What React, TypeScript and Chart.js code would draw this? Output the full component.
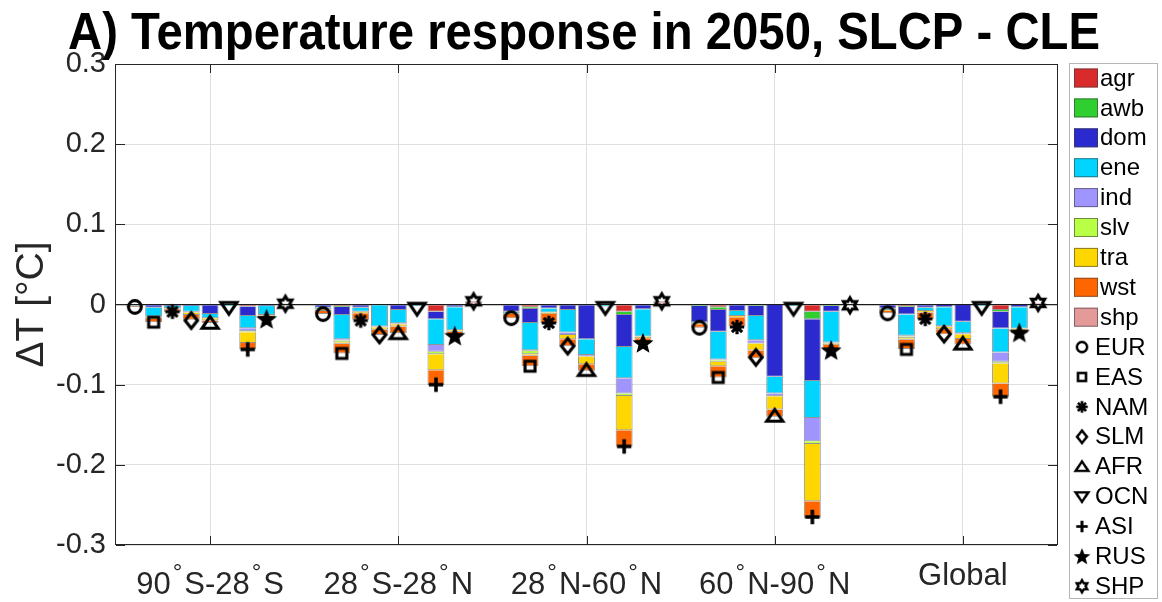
import React, { useEffect, useRef } from 'react';
import { Chart, registerables } from 'chart.js';
Chart.register(...registerables);

const TITLE = 'A) Temperature response in 2050, SLCP - CLE';
const Y_LABEL = 'ΔT [°C]';
const BANDS = ['90°S-28°S', '28°S-28°N', '28°N-60°N', '60°N-90°N', 'Global'];
const REGIONS = ['EUR', 'EAS', 'NAM', 'SLM', 'AFR', 'OCN', 'ASI', 'RUS', 'SHP'];
const SECTORS = ['agr', 'awb', 'dom', 'ene', 'ind', 'slv', 'tra', 'wst', 'shp'];
const Y_MIN = -0.3;
const Y_MAX = 0.3;
const Y_STEP = 0.1;

// rows = latitude bands, columns = source regions (EUR..SHP)
const agr = [
  [0, -0.001, 0, 0, -0.001, 0, -0.002, 0, 0],
  [-0.001, -0.002, -0.001, 0, -0.001, 0, -0.009, -0.001, 0],
  [-0.001, -0.0035, -0.001, -0.001, -0.001, 0, -0.009, -0.001, 0],
  [-0.001, -0.0035, -0.001, 0, -0.0005, 0, -0.009, 0, 0],
  [-0.001, -0.002, -0.001, -0.0005, -0.0005, 0, -0.007, -0.0005, 0],
];
const awb = [
  [0, 0, 0, 0, 0, 0, -0.0005, 0, 0],
  [0, -0.001, 0, 0, 0, 0, -0.0005, 0, 0],
  [0, -0.002, 0, 0, 0, 0, -0.004, 0, 0],
  [-0.001, -0.0035, 0, -0.002, 0, 0, -0.0095, -0.002, 0],
  [0, -0.001, 0, 0, 0, 0, -0.002, 0, 0],
];
const dom = [
  [-0.001, -0.003, -0.002, -0.002, -0.011, -0.001, -0.012, -0.002, 0],
  [-0.003, -0.01, -0.003, -0.001, -0.006, -0.001, -0.009, -0.0025, 0],
  [-0.008, -0.0175, -0.004, -0.006, -0.0425, -0.001, -0.04, -0.005, 0],
  [-0.02, -0.027, -0.007, -0.0125, -0.0895, -0.001, -0.077, -0.007, 0],
  [-0.004, -0.0095, -0.003, -0.003, -0.021, -0.001, -0.021, -0.003, 0],
];
const ene = [
  [-0.0005, -0.011, -0.003, -0.007, -0.005, -0.001, -0.015, -0.011, 0],
  [-0.002, -0.0305, -0.005, -0.0265, -0.0165, -0.001, -0.032, -0.0285, 0],
  [-0.002, -0.034, -0.005, -0.028, -0.0195, -0.0015, -0.039, -0.034, 0],
  [-0.0015, -0.0345, -0.0065, -0.03, -0.021, -0.001, -0.046, -0.0385, 0],
  [-0.002, -0.0265, -0.004, -0.0235, -0.0145, -0.001, -0.03, -0.0265, 0],
];
const ind = [
  [0, -0.001, 0, -0.001, 0, 0, -0.004, 0, 0],
  [0, -0.0015, 0, -0.001, -0.001, 0, -0.0085, 0, 0],
  [0, -0.001, 0, -0.003, -0.002, 0, -0.019, 0, 0],
  [0, -0.001, 0, -0.004, -0.0035, 0, -0.029, -0.001, 0],
  [0, -0.001, 0, -0.001, -0.001, 0, -0.0115, 0, 0],
];
const slv = [
  [0, 0, 0, 0, 0, 0, -0.001, 0, 0],
  [0, -0.002, 0, 0, 0, 0, -0.003, 0, 0],
  [0, -0.004, 0, 0, 0, 0, -0.003, 0, 0],
  [0, -0.002, 0, 0, 0, 0, -0.0035, 0, 0],
  [0, -0.002, 0, 0, 0, 0, -0.002, 0, 0],
];
const tra = [
  [0, -0.002, -0.001, -0.003, -0.003, 0, -0.0135, -0.001, 0],
  [-0.002, -0.002, -0.002, -0.003, -0.003, 0, -0.02, -0.002, 0],
  [-0.001, -0.002, -0.002, -0.0055, -0.0095, 0, -0.043, -0.002, 0],
  [-0.001, -0.0055, -0.0015, -0.009, -0.0165, 0, -0.0715, -0.002, 0],
  [-0.001, -0.002, -0.002, -0.003, -0.006, 0, -0.025, -0.0015, 0],
];
const wst = [
  [-0.0015, -0.004, -0.003, -0.006, -0.003, 0, -0.0075, -0.003, 0],
  [-0.004, -0.012, -0.008, -0.0065, -0.0085, 0, -0.0185, -0.0045, 0],
  [-0.005, -0.013, -0.011, -0.0085, -0.008, 0, -0.02, -0.0065, 0],
  [-0.0045, -0.014, -0.011, -0.0095, -0.009, 0, -0.0205, -0.0065, 0],
  [-0.003, -0.0115, -0.008, -0.006, -0.007, 0, -0.0165, -0.0045, 0],
];
const shp = [
  [0, 0, 0, 0, 0, 0, 0, 0, 0.0015],
  [0, 0, 0, 0, 0, 0, 0, 0, 0.004],
  [0, 0, 0, 0, 0, 0, 0, 0, 0.004],
  [0, 0, 0, 0, 0, 0, 0, 0, -0.001],
  [0, 0, 0, 0, 0, 0, 0, 0, 0.002],
];
// total response per band (rows) and source region (columns), shown by markers
const totals = [
  [-0.003, -0.022, -0.009, -0.02, -0.023, -0.004, -0.056, -0.018, 0.001],
  [-0.012, -0.061, -0.02, -0.038, -0.036, -0.005, -0.1, -0.039, 0.004],
  [-0.017, -0.077, -0.023, -0.052, -0.082, -0.004, -0.177, -0.048, 0.004],
  [-0.029, -0.091, -0.028, -0.066, -0.139, -0.005, -0.265, -0.057, -0.001],
  [-0.011, -0.056, -0.018, -0.037, -0.049, -0.004, -0.115, -0.035, 0.002],
];

const SECTOR_VALUES = [agr, awb, dom, ene, ind, slv, tra, wst, shp];
const SECTOR_COLORS = ['#d92b2b', '#2ecf2e', '#2a2acf', '#00d4ff', '#a094ff', '#b8ff45', '#ffd700', '#ff6600', '#e59a9a'];
const MARKERS = ['o', 's', '*', 'd', '^', 'v', '+', 'p', 'h'];

const FONT = "'Liberation Sans', Arial, Helvetica, sans-serif";
const AXIS_COLOR = '#262626';
const GRID_COLOR = '#dfdfdf';
const GROUP_PCT = 0.9; // share of a band used by its region bars
const BAR_PCT = 0.9; // share of a slot filled by one bar

function regionOffset(ri: number) {
  return -GROUP_PCT / 2 + ((ri + 0.5) * GROUP_PCT) / REGIONS.length;
}

function makeMarker(kind: string): HTMLCanvasElement {
  const S = 30;
  const c = document.createElement('canvas');
  c.width = S;
  c.height = S;
  const g = c.getContext('2d')!;
  g.translate(S / 2, S / 2);
  g.strokeStyle = '#000';
  g.fillStyle = '#000';
  g.lineWidth = 3.1;
  g.lineJoin = 'miter';
  g.lineCap = 'butt';
  g.beginPath();
  if (kind === 'o') {
    g.arc(0, 0, 6.4, 0, Math.PI * 2);
    g.stroke();
  } else if (kind === 's') {
    g.rect(-5, -5, 10, 10);
    g.stroke();
  } else if (kind === '*') {
    g.lineWidth = 3.2;
    for (let k = 0; k < 4; k++) {
      const a = (k * Math.PI) / 4;
      g.moveTo(-7.2 * Math.cos(a), -7.2 * Math.sin(a));
      g.lineTo(7.2 * Math.cos(a), 7.2 * Math.sin(a));
    }
    g.stroke();
  } else if (kind === 'd') {
    g.moveTo(0, -7.8);
    g.lineTo(6.2, 0);
    g.lineTo(0, 7.8);
    g.lineTo(-6.2, 0);
    g.closePath();
    g.stroke();
  } else if (kind === '^') {
    g.moveTo(0, -6.5);
    g.lineTo(8, 5.3);
    g.lineTo(-8, 5.3);
    g.closePath();
    g.stroke();
  } else if (kind === 'v') {
    g.moveTo(0, 6.5);
    g.lineTo(8, -5.3);
    g.lineTo(-8, -5.3);
    g.closePath();
    g.stroke();
  } else if (kind === '+') {
    g.lineWidth = 3.6;
    g.moveTo(-7.2, 0);
    g.lineTo(7.2, 0);
    g.moveTo(0, -7.2);
    g.lineTo(0, 7.2);
    g.stroke();
  } else if (kind === 'p') {
    for (let k = 0; k < 10; k++) {
      const a = -Math.PI / 2 + (k * Math.PI) / 5;
      const r = k % 2 === 0 ? 9.4 : 4.1;
      const x = r * Math.cos(a);
      const y = r * Math.sin(a) + 0.8;
      if (k === 0) g.moveTo(x, y);
      else g.lineTo(x, y);
    }
    g.closePath();
    g.fill();
    g.lineWidth = 1.2;
    g.stroke();
  } else if (kind === 'h') {
    g.lineWidth = 3;
    for (let k = 0; k < 12; k++) {
      const a = -Math.PI / 2 + (k * Math.PI) / 6;
      const r = k % 2 === 0 ? 7.6 : 7.6 / Math.sqrt(3);
      const x = r * Math.cos(a);
      const y = r * Math.sin(a);
      if (k === 0) g.moveTo(x, y);
      else g.lineTo(x, y);
    }
    g.closePath();
    g.stroke();
  }
  return c;
}

function drawLabelRuns(ctx: CanvasRenderingContext2D, text: string, cx: number, top: number) {
  const mainSize = 31;
  const supSize = 24;
  const hasSup = text.indexOf('°') >= 0;
  const runs: { t: string; sup: boolean }[] = [];
  for (const ch of text) {
    const sup = ch === '°';
    const last = runs[runs.length - 1];
    if (last && last.sup === sup && !sup) last.t += ch;
    else runs.push({ t: ch, sup });
  }
  const widths = runs.map((r) => {
    ctx.font = `${r.sup ? supSize : mainSize}px ${FONT}`;
    return ctx.measureText(r.t).width + (r.sup ? 4 : 0);
  });
  const total = widths.reduce((a, b) => a + b, 0);
  let x = cx - total / 2;
  const baseline = top + mainSize * 0.716 + (hasSup ? 9 : 0);
  ctx.textAlign = 'left';
  ctx.textBaseline = 'alphabetic';
  runs.forEach((r, i) => {
    ctx.font = `${r.sup ? supSize : mainSize}px ${FONT}`;
    if (r.sup) ctx.fillText(r.t, x + 2, baseline - 14);
    else ctx.fillText(r.t, x, baseline);
    x += widths[i];
  });
}

export default function App() {
  const ref = useRef<HTMLCanvasElement>(null);

  useEffect(() => {
    document.body.style.margin = '0';
    const canvas = ref.current;
    if (!canvas) return;
    const markerImgs = MARKERS.map((m) => makeMarker(m));

    const datasets: any[] = [];
    REGIONS.forEach((r, ri) => {
      const off = regionOffset(ri);
      datasets.push({
        type: 'scatter',
        label: r,
        xAxisID: 'xm',
        yAxisID: 'ym',
        data: totals.map((row, bi) => ({ x: bi + off, y: row[ri] })),
        pointStyle: markerImgs[ri],
        pointRadius: 8,
        pointHoverRadius: 8,
        showLine: false,
        order: 0,
      });
    });
    REGIONS.forEach((r, ri) => {
      const off = regionOffset(ri);
      SECTORS.forEach((s, si) => {
        const pts = SECTOR_VALUES[si]
          .map((row, bi) => ({ x: bi + off, y: row[ri] }))
          .filter((p) => p.y !== 0);
        datasets.push({
          type: 'bar',
          label: `${s} ${r}`,
          xAxisID: 'xm',
          yAxisID: 'y',
          data: pts,
          backgroundColor: SECTOR_COLORS[si],
          borderColor: 'rgba(60,60,60,0.55)',
          borderWidth: 1,
          categoryPercentage: 1,
          barPercentage: BAR_PCT,
          order: 1,
        });
      });
    });

    const decor = {
      id: 'decor',
      afterDraw(chart: any) {
        const ctx: CanvasRenderingContext2D = chart.ctx;
        const { left, right, top, bottom } = chart.chartArea;
        const xs = chart.scales.x;
        const ys = chart.scales.y;
        ctx.save();
        // frame
        ctx.strokeStyle = AXIS_COLOR;
        ctx.lineWidth = 1;
        ctx.strokeRect(Math.round(left) - 0.5, Math.round(top) + 0.5, Math.round(right - left) + 1, Math.round(bottom - top) - 1);
        // inward ticks
        ctx.beginPath();
        const tl = 9;
        for (let v = Y_MIN; v <= Y_MAX + 1e-9; v += Y_STEP) {
          const y = Math.round(ys.getPixelForValue(v)) + 0.5;
          ctx.moveTo(left, y);
          ctx.lineTo(left + tl, y);
          ctx.moveTo(right, y);
          ctx.lineTo(right - tl, y);
        }
        BANDS.forEach((_, i) => {
          const x = Math.round(xs.getPixelForValue(i)) + 0.5;
          ctx.moveTo(x, bottom);
          ctx.lineTo(x, bottom - tl);
          ctx.moveTo(x, top);
          ctx.lineTo(x, top + tl);
        });
        ctx.stroke();

        // x labels
        ctx.fillStyle = AXIS_COLOR;
        BANDS.forEach((b, i) => drawLabelRuns(ctx, b, xs.getPixelForValue(i), 563));

        // y label
        ctx.save();
        ctx.translate(43, (top + bottom) / 2);
        ctx.rotate(-Math.PI / 2);
        ctx.font = `39px ${FONT}`;
        ctx.textAlign = 'center';
        ctx.textBaseline = 'alphabetic';
        ctx.fillText(Y_LABEL, 0, 0);
        ctx.restore();

        // title
        ctx.save();
        ctx.font = `bold 52px ${FONT}`;
        const tw = ctx.measureText(TITLE).width;
        ctx.translate(68, 49);
        ctx.scale(1032 / tw, 1);
        ctx.fillStyle = '#000';
        ctx.textAlign = 'left';
        ctx.textBaseline = 'alphabetic';
        ctx.fillText(TITLE, 0, 0);
        ctx.restore();

        // legend
        const lx = 1069.5;
        const ly = 63.5;
        ctx.fillStyle = '#fff';
        ctx.fillRect(lx, ly, 88, 535);
        ctx.strokeStyle = '#b5b5b5';
        ctx.lineWidth = 1;
        ctx.strokeRect(lx, ly, 88, 535);
        ctx.font = `24px ${FONT}`;
        ctx.textBaseline = 'middle';
        ctx.textAlign = 'left';
        const step = 29.9;
        SECTORS.forEach((s, i) => {
          const cy = 78 + i * step;
          ctx.fillStyle = SECTOR_COLORS[i];
          ctx.fillRect(1074, cy - 9.5, 24, 19);
          ctx.strokeStyle = 'rgba(60,60,60,0.6)';
          ctx.strokeRect(1074.5, cy - 9, 23, 18);
          ctx.fillStyle = '#000';
          ctx.fillText(s, 1100, cy + 1);
        });
        REGIONS.forEach((r, i) => {
          const cy = 78 + (i + SECTORS.length) * step;
          const img = markerImgs[i];
          const sc = 0.8;
          ctx.drawImage(img, 1082 - (img.width * sc) / 2, cy - (img.height * sc) / 2, img.width * sc, img.height * sc);
          ctx.fillStyle = '#000';
          ctx.fillText(r, 1095, cy + 1);
        });
        ctx.restore();
      },
    };

    const chart = new Chart(canvas, {
      type: 'bar',
      data: { labels: BANDS, datasets },
      options: {
        responsive: false,
        animation: false,
        events: [],
        devicePixelRatio: 1,
        layout: { padding: { left: 0, top: 64, right: 105, bottom: 57 } },
        plugins: { legend: { display: false }, tooltip: { enabled: false }, title: { display: false } },
        scales: {
          x: {
            type: 'category',
            offset: true,
            grid: { offset: false, color: GRID_COLOR, drawTicks: false },
            border: { display: false },
            ticks: { display: false },
            afterFit: (s: any) => {
              s.height = 0;
            },
          },
          xm: {
            type: 'linear',
            display: false,
            offset: false,
            stacked: true,
            min: -0.5,
            max: 4.5,
            grid: { offset: false },
          },
          y: {
            type: 'linear',
            stacked: true,
            min: Y_MIN,
            max: Y_MAX,
            ticks: {
              stepSize: Y_STEP,
              padding: 10,
              color: AXIS_COLOR,
              font: { family: FONT, size: 29 },
              callback: (v: any) => {
                const n = Math.round(Number(v) * 10) / 10;
                return n === 0 ? '0' : String(n);
              },
            },
            grid: {
              drawTicks: false,
              color: (c: any) => (Math.abs(c.tick.value) < 1e-9 ? '#1a1a1a' : GRID_COLOR),
              lineWidth: (c: any) => (Math.abs(c.tick.value) < 1e-9 ? 1.3 : 1),
            },
            border: { display: false },
            afterFit: (s: any) => {
              s.width = 116;
            },
          },
          ym: { type: 'linear', display: false, min: Y_MIN, max: Y_MAX, stacked: false },
        },
      } as any,
      plugins: [decor],
    });
    return () => chart.destroy();
  }, []);

  return (
    <div style={{ width: 1162, height: 602 }}>
      <canvas ref={ref} width={1162} height={602} style={{ display: 'block' }} />
    </div>
  );
}
